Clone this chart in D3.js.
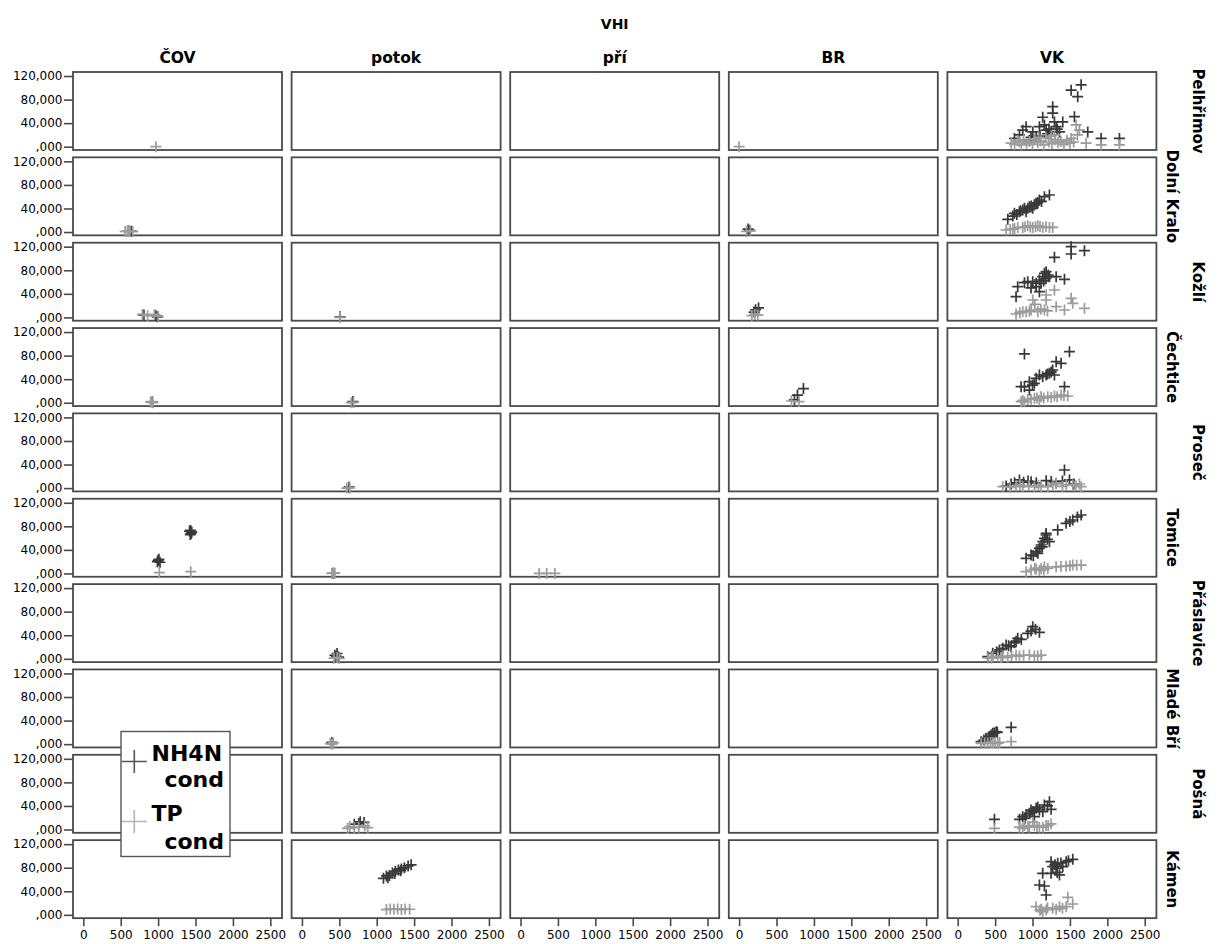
<!DOCTYPE html>
<html>
<head>
<meta charset="utf-8">
<script src="https://cdn.jsdelivr.net/npm/d3@7"></script>
<style>
  html, body { margin: 0; padding: 0; background: #fff; }
  svg { display: block; }
  text { font-family: "DejaVu Sans", sans-serif; fill: #000; }
</style>
</head>
<body>
<svg id="chart" width="1219" height="944"></svg>
<script>
// Column facets (sampling site type) and row facets (station)
const sites = ["ČOV", "potok", "pří", "BR", "VK"];
const stations = ["Pelhřimov", "Dolní Kralo", "Kožlí", "Čechtice", "Proseč",
                  "Tomice", "Přáslavice", "Mladé Bří", "Pošná", "Kámen"];

const xTicks = [0, 500, 1000, 1500, 2000, 2500];
const yTicks = [120, 80, 40, 0];
const yTickLabels = ["120,000", "80,000", "40,000", ",000"];

const seriesNames = ["NH4N cond", "TP cond"];

// Each entry: [site, VHI, value]
const nh4nPelhrimov = [
  ["VK",1516,96],["VK",1650,105],["VK",1604,85],["VK",1270,68],["VK",1270,57],["VK",1136,50],
  ["VK",1560,51],["VK",1293,42],["VK",1404,42],["VK",1092,34],["VK",914,34],["VK",1738,25],
  ["VK",1917,14],["VK",2162,14],["VK",758,14],["VK",825,20],["VK",1003,25],["VK",1182,28],
  ["VK",1048,17],["VK",1316,34],["VK",1360,25],["VK",958,11],["VK",1159,37],["VK",869,28],
  ["VK",1248,25],["VK",1200,22],["VK",1100,18],["VK",980,16],["VK",1220,30],["VK",1330,30]
];
const tpPelhrimov = [
  ["ČOV",970,0],["BR",0,0],
  ["VK",1583,37],["VK",1627,28],["VK",1716,6],["VK",1917,3],["VK",2162,3],["VK",714,6],
  ["VK",825,8.5],["VK",1293,20],["VK",1516,14],["VK",760,4],["VK",800,10],["VK",850,3],
  ["VK",880,12],["VK",920,6],["VK",960,9],["VK",1000,4],["VK",1030,13],["VK",1070,7],
  ["VK",1110,10],["VK",1150,3],["VK",1180,15],["VK",1220,8],["VK",1260,5],["VK",1300,12],
  ["VK",1340,7],["VK",1380,9],["VK",1420,4],["VK",1460,11],["VK",1500,6],["VK",1550,8],
  ["VK",1600,20],["VK",1250,18],["VK",1080,16]
];

const nh4nDolniKralo = [
  ["ČOV",600,2],["ČOV",640,1.5],["BR",120,5],["BR",140,3],
  ["VK",669,21.6],["VK",758,31.8],["VK",825,34.6],["VK",892,40.3],["VK",958,43.1],["VK",1025,45.9],
  ["VK",1092,54.4],["VK",1159,60],["VK",1226,62.9],["VK",736,27.2],["VK",869,37.4],["VK",936,40.3],
  ["VK",981,44.2],["VK",1048,48.8],["VK",914,34.6],["VK",1003,40.3],["VK",1070,50],["VK",1120,52],
  ["VK",840,36],["VK",790,30]
];
const tpDolniKralo = [
  ["ČOV",560,1],["ČOV",600,0.5],["ČOV",620,1.5],["ČOV",660,0.8],["ČOV",590,2],
  ["BR",100,1],["BR",150,2],
  ["VK",647,3.5],["VK",736,5],["VK",803,7.8],["VK",869,7.8],["VK",936,10.6],["VK",1003,7.8],
  ["VK",1070,10.6],["VK",1137,7.8],["VK",1226,7.8],["VK",1270,7.8],["VK",700,4.5],["VK",760,6],
  ["VK",900,9],["VK",970,8.5],["VK",1040,9],["VK",1100,9.5],["VK",1180,9]
];

const nh4nKozli = [
  ["ČOV",810,4],["ČOV",970,3],["ČOV",990,1],["potok",510,1],
  ["BR",220,13],["BR",260,16],["BR",200,9],
  ["VK",1516,120],["VK",1516,107.6],["VK",1694,113.3],["VK",1293,102],["VK",1182,77.6],["VK",1136,69.1],
  ["VK",1092,63.5],["VK",1003,60.6],["VK",936,60.6],["VK",1226,69.1],["VK",1316,69.1],["VK",1427,64.7],
  ["VK",802,52.1],["VK",780,35.1],["VK",1048,52.1],["VK",1114,57.9],["VK",892,58.9],["VK",1159,74.9],
  ["VK",1092,43.6],["VK",1180,66],["VK",1210,72],["VK",1150,62],["VK",1050,58],["VK",980,50]
];
const tpKozli = [
  ["ČOV",790,5],["ČOV",950,5],["ČOV",1000,2],["ČOV",860,3],["potok",510,0],
  ["BR",170,3],["BR",210,5],["BR",250,4],
  ["VK",1293,46.5],["VK",1182,38],["VK",1003,29.5],["VK",981,12.6],["VK",780,5.8],["VK",914,9.7],
  ["VK",1070,9.7],["VK",1159,12.6],["VK",1182,29.5],["VK",1316,18.2],["VK",1427,12.6],["VK",1516,32.4],
  ["VK",1538,23.9],["VK",1694,15.4],["VK",869,9.7],["VK",958,10.5],["VK",1030,22],["VK",1110,14],
  ["VK",1200,11],["VK",830,8]
];

const nh4nCechtice = [
  ["ČOV",920,1.5],["potok",680,2],
  ["BR",860,24],["BR",780,13],["BR",740,5],
  ["VK",892,82.8],["VK",1494,86.7],["VK",1316,69.7],["VK",1382,67],["VK",1270,55.6],["VK",1182,47.1],
  ["VK",1092,47.1],["VK",1048,41.4],["VK",958,35.8],["VK",892,27.3],["VK",847,27.3],["VK",958,21.6],
  ["VK",1427,27.3],["VK",1226,50],["VK",1293,47.1],["VK",1136,44.2],["VK",1025,33],["VK",1250,52],
  ["VK",1200,49],["VK",1000,30]
];
const tpCechtice = [
  ["ČOV",900,1],["ČOV",930,0],["ČOV",910,2],["potok",660,0],["potok",690,0.5],
  ["BR",700,3],["BR",800,2],
  ["VK",847,1.8],["VK",936,5.6],["VK",1025,7.5],["VK",1114,10.3],["VK",1204,10.3],["VK",1293,11.5],
  ["VK",1382,13.1],["VK",1471,11.5],["VK",892,1.8],["VK",1092,4.7],["VK",980,6],["VK",1150,8],
  ["VK",1250,9],["VK",1330,10],["VK",1420,12],["VK",870,4],["VK",1060,8]
];

const nh4nProsec = [
  ["potok",630,1.5],
  ["VK",1427,30.7],["VK",825,13.8],["VK",981,10.9],["VK",1182,12.6],["VK",1494,13.8],["VK",714,7],
  ["VK",647,3.6],["VK",1316,8.1],["VK",880,10],["VK",1050,9],["VK",1250,11],["VK",1400,12],
  ["VK",1550,7],["VK",760,9],["VK",940,12]
];
const tpProsec = [
  ["potok",600,0],["potok",640,0.3],
  ["VK",603,2.4],["VK",780,3.5],["VK",869,2.4],["VK",1025,2.4],["VK",1114,2.4],["VK",1204,2.4],
  ["VK",1271,5.4],["VK",1316,8],["VK",1627,7],["VK",1650,2.4],["VK",1538,5.4],["VK",700,1.5],
  ["VK",950,4],["VK",1080,5],["VK",1400,3],["VK",1450,6],["VK",1580,4],["VK",830,6]
];

const nh4nTomice = [
  ["ČOV",990,20],["ČOV",1010,24],["ČOV",1025,19],["ČOV",1000,22],
  ["ČOV",1420,72],["ČOV",1440,68],["ČOV",1450,70],["ČOV",1430,66],["ČOV",1435,73],
  ["potok",420,0.5],
  ["VK",1650,99.2],["VK",1538,90.7],["VK",1449,85.1],["VK",1337,73.8],["VK",1182,65.3],["VK",1160,59.6],
  ["VK",1226,53.9],["VK",1115,48.3],["VK",1092,42.6],["VK",1048,36.9],["VK",981,31.3],["VK",914,25.6],
  ["VK",1137,53.9],["VK",1182,68],["VK",1070,34.1],["VK",1600,96],["VK",1500,88],["VK",1130,45],
  ["VK",1200,58],["VK",1010,30]
];
const tpTomice = [
  ["ČOV",1016,1.3],["ČOV",1436,3],
  ["potok",400,0],["potok",440,0.5],["potok",420,1],
  ["pří",250,0],["pří",350,0],["pří",460,0],
  ["VK",914,3],["VK",981,5.9],["VK",1048,7],["VK",1115,8.5],["VK",1160,11.3],["VK",1204,8.5],
  ["VK",1315,11.3],["VK",1449,12.4],["VK",1538,14.2],["VK",1650,14.2],["VK",1092,5],["VK",1380,12],
  ["VK",1590,14],["VK",1500,13],["VK",1030,9],["VK",1150,6]
];

const nh4nPraslavice = [
  ["potok",440,6],["potok",470,9],["potok",490,3],["potok",460,4],
  ["VK",1003,54.5],["VK",1092,45],["VK",936,43.3],["VK",802,34.8],["VK",758,27.3],["VK",647,23.4],
  ["VK",558,14.9],["VK",468,9.3],["VK",401,3.6],["VK",714,20.5],["VK",602,17.8],["VK",780,30],
  ["VK",850,33],["VK",680,22],["VK",520,12],["VK",1040,50],["VK",980,47]
];
const tpPraslavice = [
  ["potok",430,1],["potok",470,2],["potok",500,0.5],
  ["VK",401,1.4],["VK",468,3.6],["VK",535,3.6],["VK",602,4.7],["VK",669,2.5],["VK",780,6.4],
  ["VK",825,4.7],["VK",958,6.4],["VK",1025,4.7],["VK",1115,6.4],["VK",450,1],["VK",580,2],
  ["VK",720,5],["VK",880,6],["VK",1070,5]
];

const nh4nMladeBri = [
  ["potok",400,3],
  ["VK",714,28.6],["VK",513,21.1],["VK",446,15.5],["VK",379,9.9],["VK",312,4.2],["VK",468,18.4],
  ["VK",420,13],["VK",350,7],["VK",490,19],["VK",530,20]
];
const tpMladeBri = [
  ["potok",380,1],["potok",420,2],["potok",400,0],
  ["VK",714,4.2],["VK",312,1.4],["VK",401,1.4],["VK",468,2.3],["VK",535,1.4],["VK",360,2],
  ["VK",440,3],["VK",500,2.5],["VK",560,3]
];

const nh4nPosna = [
  ["potok",780,13],["potok",830,12],["potok",700,9],["potok",760,10],
  ["VK",491,17.3],["VK",1226,47.2],["VK",1248,34.3],["VK",1159,41.6],["VK",1048,36],["VK",1003,30.2],
  ["VK",958,27.5],["VK",869,21.7],["VK",825,17.3],["VK",1092,33.1],["VK",914,24.6],["VK",1137,30.2],
  ["VK",1025,21.7],["VK",1070,38],["VK",1200,40],["VK",980,33],["VK",900,19]
];
const tpPosna = [
  ["potok",640,5],["potok",700,3],["potok",760,4],["potok",840,6],["potok",880,3],["potok",610,2],
  ["VK",491,2],["VK",825,3.9],["VK",892,6.8],["VK",958,3.9],["VK",1025,6.8],["VK",1092,3.9],
  ["VK",1182,6.8],["VK",1248,9.6],["VK",1003,12.4],["VK",869,2],["VK",940,5],["VK",1060,5],
  ["VK",1140,4],["VK",1210,7]
];

const nh4nKamen = [
  ["potok",1090,62],["potok",1130,66],["potok",1170,67],["potok",1210,71],["potok",1250,74],
  ["potok",1290,76],["potok",1330,78],["potok",1370,80],["potok",1420,83],["potok",1460,85],
  ["potok",1150,63],["potok",1240,70],["potok",1320,75],
  ["VK",1538,94.3],["VK",1449,90.3],["VK",1337,87.5],["VK",1248,90.3],["VK",1316,79],["VK",1360,67.7],
  ["VK",1248,70.5],["VK",1136,70.5],["VK",1092,50.7],["VK",1159,49],["VK",1182,33.7],["VK",1270,81.8],
  ["VK",1404,81.8],["VK",1300,85],["VK",1380,88],["VK",1330,72],["VK",1480,92]
];
const tpKamen = [
  ["potok",1130,9],["potok",1180,10],["potok",1230,9.5],["potok",1280,10],["potok",1330,9],
  ["potok",1380,10],["potok",1440,9.5],
  ["VK",1471,29.8],["VK",1538,18.4],["VK",1048,13.9],["VK",1115,9.4],["VK",1182,8.2],["VK",1270,11.1],
  ["VK",1360,13.9],["VK",1449,13.9],["VK",1137,5.4],["VK",1316,9.4],["VK",1200,12],["VK",1100,8],
  ["VK",1400,11]
];

// Row order pairs each station with its two series
const stationSeries = [
  [nh4nPelhrimov, tpPelhrimov], [nh4nDolniKralo, tpDolniKralo], [nh4nKozli, tpKozli],
  [nh4nCechtice, tpCechtice], [nh4nProsec, tpProsec], [nh4nTomice, tpTomice],
  [nh4nPraslavice, tpPraslavice], [nh4nMladeBri, tpMladeBri], [nh4nPosna, tpPosna],
  [nh4nKamen, tpKamen]
];

// ---- layout ----
const marginLeft = 73, marginTop = 72;
const panelW = 209, panelH = 78;
const stepX = 218.6, stepY = 85.35;
const colors = ["#383838", "#9c9c9c"];
const frameColor = "#4a4a4a";

const svg = d3.select("#chart");
svg.append("rect").attr("width", 1219).attr("height", 944).attr("fill", "#fff");

const x = d3.scaleLinear().domain([-138, 2656]).range([0, panelW]);
const y = d3.scaleLinear().domain([-5.6, 126.8]).range([panelH, 0]);

const colX = d3.scaleBand().domain(sites).range([marginLeft, marginLeft + stepX * sites.length]);
const rowY = d3.scaleBand().domain(stations).range([marginTop, marginTop + stepY * stations.length]);

const plusPath = s => `M${-s},0H${s}M0,${-s}V${s}`;

// Title and column headers
svg.append("text")
  .attr("x", marginLeft + (stepX * 4 + panelW) / 2).attr("y", 29)
  .attr("text-anchor", "middle").attr("font-weight", "bold").attr("font-size", 14)
  .text("VHI");

svg.selectAll("text.col-title").data(sites).join("text")
  .attr("class", "col-title")
  .attr("x", d => colX(d) + panelW / 2).attr("y", 63)
  .attr("text-anchor", "middle").attr("font-weight", "bold").attr("font-size", 15.5)
  .text(d => d);

// Row labels, staggered so that long names do not collide
svg.selectAll("text.row-title").data(stations).join("text")
  .attr("class", "row-title")
  .attr("transform", (d, i) => {
    const bx = i % 2 === 0 ? 1193 : 1167;
    return `translate(${bx},${rowY(d) + panelH / 2}) rotate(90)`;
  })
  .attr("text-anchor", "middle").attr("font-weight", "bold").attr("font-size", 15)
  .text(d => d);

stations.forEach((station, ri) => {
  const [nh4n, tp] = stationSeries[ri];
  sites.forEach((site, ci) => {
    const g = svg.append("g")
      .attr("transform", `translate(${colX(site)},${rowY(station)})`);

    g.append("rect")
      .attr("width", panelW).attr("height", panelH)
      .attr("fill", "#fff").attr("stroke", frameColor).attr("stroke-width", 1.8);

    [nh4n, tp].forEach((series, si) => {
      g.selectAll(null).data(series.filter(d => d[0] === site)).join("path")
        .attr("d", plusPath(5.5))
        .attr("transform", d => `translate(${x(d[1])},${y(d[2])})`)
        .attr("fill", "none").attr("stroke", colors[si]).attr("stroke-width", 1.7);
    });

    if (ci === 0) {
      const ya = g.append("g").call(
        d3.axisLeft(y).tickValues(yTicks).tickFormat((d, i) => yTickLabels[i])
          .tickSize(9).tickPadding(1.5));
      ya.select(".domain").remove();
      ya.selectAll("line").attr("stroke", frameColor).attr("stroke-width", 1.6);
      ya.selectAll("text").attr("font-size", 12).attr("font-family", "DejaVu Sans").attr("fill", "#000");
    }
    if (ri === stations.length - 1) {
      const xa = g.append("g").attr("transform", `translate(0,${panelH})`).call(
        d3.axisBottom(x).tickValues(xTicks).tickFormat(d3.format("d"))
          .tickSize(8).tickPadding(4));
      xa.select(".domain").remove();
      xa.selectAll("line").attr("stroke", frameColor).attr("stroke-width", 1.6);
      xa.selectAll("text").attr("font-size", 12).attr("font-family", "DejaVu Sans").attr("fill", "#000");
    }
  });
});

// Legend
const lg = svg.append("g").attr("transform", "translate(121,731.5)");
lg.append("rect").attr("width", 109).attr("height", 125)
  .attr("fill", "#fff").attr("stroke", "#555").attr("stroke-width", 1.4);
const legendRows = [
  { name: seriesNames[0], cy: 30, firstBase: 29, secondBase: 55 },
  { name: seriesNames[1], cy: 90, firstBase: 89, secondBase: 117 }
];
legendRows.forEach((r, i) => {
  lg.append("path")
    .attr("d", `M-12.5,0H12.5M0,-11.5V11.5`)
    .attr("transform", `translate(13.3,${r.cy})`)
    .attr("fill", "none").attr("stroke", i === 0 ? "#555" : "#b4b4b4").attr("stroke-width", 1.6);
  const [w1, w2] = r.name.split(" ");
  lg.append("text").attr("x", 30.5).attr("y", r.firstBase)
    .attr("font-weight", "bold").attr("font-size", 22).text(w1);
  lg.append("text").attr("x", 103).attr("y", r.secondBase).attr("text-anchor", "end")
    .attr("font-weight", "bold").attr("font-size", 22).text(w2);
});
</script>
</body>
</html>
